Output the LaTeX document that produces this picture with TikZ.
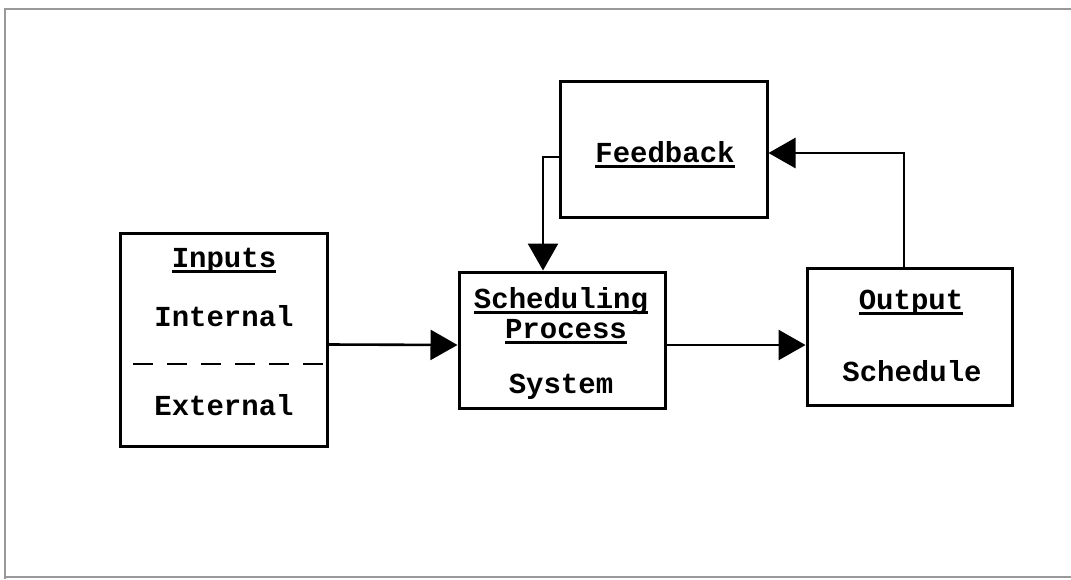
\documentclass[tikz,border=0pt]{standalone}
\usepackage{fontspec}
\setmonofont{Liberation Mono}
\usetikzlibrary{arrows.meta}
\newcommand\myul[1]{\setbox0\hbox{#1}\rlap{\rule[-5.5pt]{\wd0}{2.6pt}}\box0}
\tikzset{
  box/.style={draw, line width=3pt, rectangle, inner sep=0pt},
  lbl/.style={anchor=base, inner sep=0pt, font=\fontsize{29}{31}\selectfont\ttfamily\bfseries},
  arr/.style={line width=2.6pt, -{Triangle[length=27pt,width=30pt]}},
  frame/.style={draw=black!40, line width=1.3pt}
}
\begin{document}
\begin{tikzpicture}[x=1pt,y=-1pt]
\useasboundingbox (0,0) rectangle (1071,579);
% faint page frame
\draw[frame] (1071,9) -- (5,9) -- (5,579);
\draw[frame] (5,577) -- (1071,577);
% boxes
\node[box, minimum width=207pt, minimum height=213pt] (in) at (223.5,339.5) {};
\node[box, minimum width=206pt, minimum height=136pt] (sc) at (562,340) {};
\node[box, minimum width=207pt, minimum height=136pt] (fb) at (663.5,149) {};
\node[box, minimum width=205pt, minimum height=137pt] (out) at (909.5,336.5) {};
% dashed divider
\coordinate (dl) at (133,364);
\draw[line width=2.6pt, dash pattern=on 20pt off 14pt] (dl) -- (dl -| in.east);
% texts
\node[lbl] (t1) at (224,267) {\myul{Inputs}};
\node[lbl] (t2) at (224,326) {Internal};
\node[lbl] (t3) at (224,415) {External};
\node[lbl] (t4) at (561,308) {\myul{Scheduling}};
\node[lbl] (t5) at (566,338) {\myul{Process}};
\node[lbl] (t6) at (561,393) {System};
\node[lbl] (t7) at (665,162) {\myul{Feedback}};
\node[lbl] (t8) at (911,309) {\myul{Output}};
\node[lbl] (t9) at (912,381) {Schedule};
% connectors
\coordinate (scE) at ([yshift=-5pt]sc.east);
\draw[arr] ([yshift=-5pt]in.east) -- ([yshift=-5pt]sc.west);
\draw[arr] (scE) -- (out.west |- scE);
\draw[arr] ([xshift=-5.5pt]out.north) |- ([yshift=-4pt]fb.east);
\draw[arr] ([yshift=-8pt]fb.west) -| ([xshift=-19pt]sc.north);
\end{tikzpicture}
\end{document}
